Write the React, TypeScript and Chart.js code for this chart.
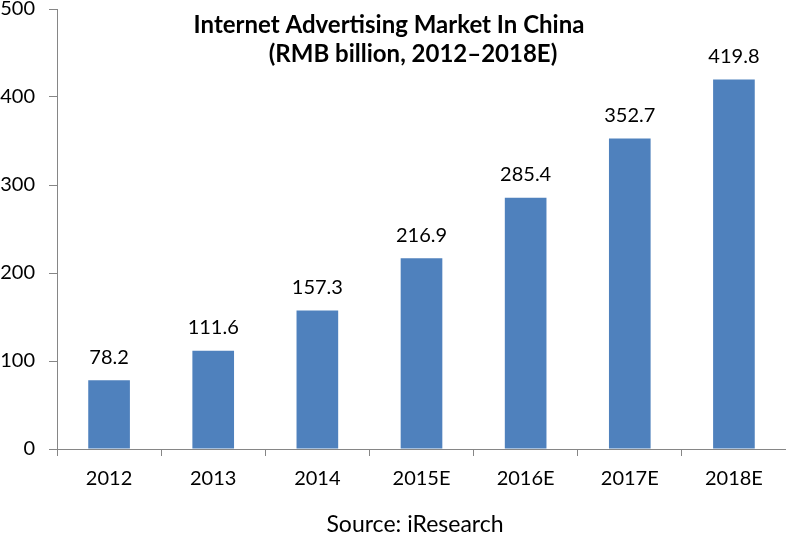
import React, { useEffect, useRef } from "react";
import { Chart, registerables } from "chart.js";

Chart.register(...registerables);

const categories = ["2012", "2013", "2014", "2015E", "2016E", "2017E", "2018E"];
const values = [78.2, 111.6, 157.3, 216.9, 285.4, 352.7, 419.8];
const yTicks = [0, 100, 200, 300, 400, 500];
const titleLines = ["Internet Advertising Market In China", "(RMB billion, 2012\u20132018E)"];
const sourceText = "Source: iResearch";

const FONT = "Lato, 'Open Sans', sans-serif";
const AXIS = "#868686";
const BAR = "#4F81BD";

const overlayPlugin = {
  id: "overlay",
  afterDatasetsDraw(chart: any) {
    const ctx = chart.ctx;
    ctx.save();
    const meta = chart.getDatasetMeta(0);
    ctx.font = `20px ${FONT}`;
    ctx.fillStyle = "#000";
    ctx.textAlign = "center";
    ctx.textBaseline = "middle";
    meta.data.forEach((el: any, i: number) => {
      ctx.fillText(values[i].toFixed(1), el.x, el.y - 23);
    });
    ctx.font = `bold 24px ${FONT}`;
    ctx.fillText(titleLines[0], 389, 25);
    ctx.fillText(titleLines[1], 413, 54);
    ctx.font = `23px ${FONT}`;
    ctx.fillText(sourceText, 415, chart.height - 12);
    ctx.restore();
  },
};

export default function App() {
  const ref = useRef<HTMLCanvasElement>(null);
  useEffect(() => {
    if (!ref.current) return;
    const chart = new Chart(ref.current, {
      type: "bar",
      data: {
        labels: categories,
        datasets: [
          {
            data: values,
            backgroundColor: BAR,
            barPercentage: 0.4,
            categoryPercentage: 1,
          },
        ],
      },
      options: {
        animation: false,
        responsive: false,
        maintainAspectRatio: false,
        layout: { padding: { left: 0, right: 0, top: 0, bottom: 35 } },
        plugins: {
          legend: { display: false },
          title: { display: false },
          tooltip: { enabled: false },
        },
        scales: {
          x: {
            grid: {
              offset: true,
              drawOnChartArea: false,
              drawTicks: true,
              tickLength: 7,
              color: AXIS,
            },
            border: { color: AXIS },
            ticks: {
              color: "#000",
              font: { family: FONT, size: 20 },
              padding: 11,
              maxRotation: 0,
            },
          },
          y: {
            min: yTicks[0],
            max: yTicks[yTicks.length - 1],
            afterFit: (scale: any) => {
              scale.width = 57;
              scale.paddingTop = 9;
            },
            grid: {
              drawOnChartArea: false,
              drawTicks: true,
              tickLength: 8,
              color: AXIS,
            },
            border: { color: AXIS },
            ticks: {
              stepSize: 100,
              color: "#000",
              font: { family: FONT, size: 20 },
              padding: 14,
            },
          },
        },
      },
      plugins: [overlayPlugin],
    });
    return () => chart.destroy();
  }, []);
  return (
    <div style={{ position: "fixed", left: 0, top: 0, width: 786, height: 537, background: "#fff" }}>
      <canvas ref={ref} width={786} height={537} style={{ width: 786, height: 537 }} />
    </div>
  );
}
